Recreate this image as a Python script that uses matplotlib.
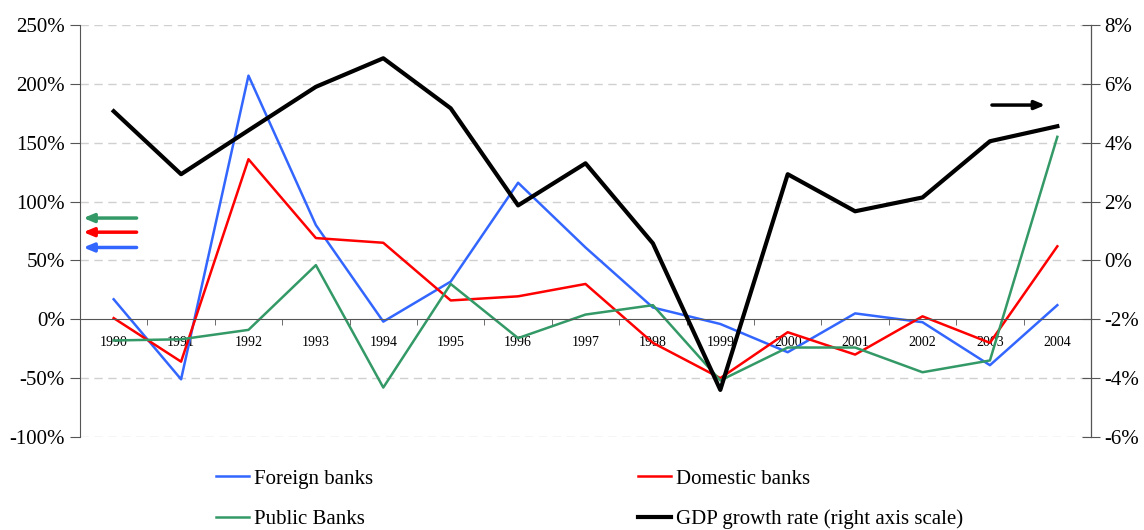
import numpy as np
import matplotlib.pyplot as plt

plt.rcParams['font.family'] = ['Liberation Serif', 'DejaVu Serif']

years = [str(y) for y in range(1990, 2005)]
foreign = [17, -51, 207, 80, -2, 32, 116, 61, 10, -4, -28, 5, -2.5, -39, 12]
domestic = [1, -36, 136, 69, 65, 16, 19.5, 30, -20, -50, -11, -30, 2.5, -20, 62]
public = [-18, -17, -9, 46, -58, 30, -16, 4, 12, -52, -24, -24, -45, -35, 155]
gdp = [5.07, 2.93, 4.42, 5.9, 6.87, 5.17, 1.87, 3.3, 0.58, -4.4, 2.93, 1.67, 2.14, 4.05, 4.56]

c_blue = "#3366FF"
c_red = "#FF0000"
c_green = "#339966"

fig = plt.figure(figsize=(11.44, 5.30), dpi=100)
ax = fig.add_axes([0.0699, 0.1755, 0.8838, 0.7773])
ax2 = ax.twinx()

x = np.arange(len(years))
l1, = ax.plot(x, foreign, color=c_blue, lw=1.8, label="Foreign banks")
l2, = ax.plot(x, domestic, color=c_red, lw=1.8, label="Domestic banks")
l3, = ax.plot(x, public, color=c_green, lw=1.8, label="Public Banks")
l4, = ax2.plot(x, gdp, color="black", lw=3.0, label="GDP growth rate (right axis scale)")

ax.set_xlim(-0.5, len(years) - 0.5)
ax.set_ylim(-100, 250)
ax2.set_ylim(-6, 8)
ax.set_yticks(np.arange(-100, 251, 50))
ax.set_yticklabels([f"{v}%" for v in range(-100, 251, 50)], fontsize=15)
ax2.set_yticks(np.arange(-6, 9, 2))
ax2.set_yticklabels([f"{v}%" for v in range(-6, 9, 2)], fontsize=15)

# grid
for v in range(-100, 251, 50):
    if v != 0:
        ax.axhline(v, color="#d0d0d0", lw=1.0, ls=(0, (6, 4)), zorder=0)

# category axis on the zero line
ax.spines["top"].set_visible(False)
ax2.spines["top"].set_visible(False)
ax2.spines["bottom"].set_visible(False)
ax.spines["bottom"].set_position(("data", 0))
ax.spines["bottom"].set_color("#555555")
ax.spines["left"].set_color("#555555")
ax2.spines["left"].set_visible(False)
ax2.spines["right"].set_color("#555555")
ax.set_xticks(x)
ax.set_xticklabels(years, fontsize=10)
ax.tick_params(axis="x", length=0, pad=12)
ax.set_xticks(np.arange(-0.5, len(years)), minor=True)
ax.tick_params(axis="x", which="minor", length=4, color="#555555", direction="out")
ax.tick_params(axis="y", length=7, color="#555555", direction="out", pad=4)
ax2.tick_params(axis="y", length=13, color="#555555", direction="inout", pad=3)

# arrows showing axis scale
for yy, col in [(86, c_green), (74, c_red), (61, c_blue)]:
    ax.annotate("", xy=(-0.45, yy), xytext=(0.34, yy),
                arrowprops=dict(arrowstyle="-|>,head_length=0.6,head_width=0.25",
                                color=col, lw=2.5, shrinkA=0, shrinkB=0))
ax.annotate("", xy=(13.82, 182), xytext=(13.03, 182),
            arrowprops=dict(arrowstyle="-|>,head_length=0.6,head_width=0.25",
                            color="black", lw=2.5, shrinkA=0, shrinkB=0))

fig.legend(handles=[l1, l3, l2, l4], loc="lower left", bbox_to_anchor=(0.172, -0.034),
           ncol=2, frameon=False, fontsize=15, handlelength=1.6, handletextpad=0.25,
           columnspacing=12.7, labelspacing=1.0)

fig.savefig("out.png", dpi=100)
